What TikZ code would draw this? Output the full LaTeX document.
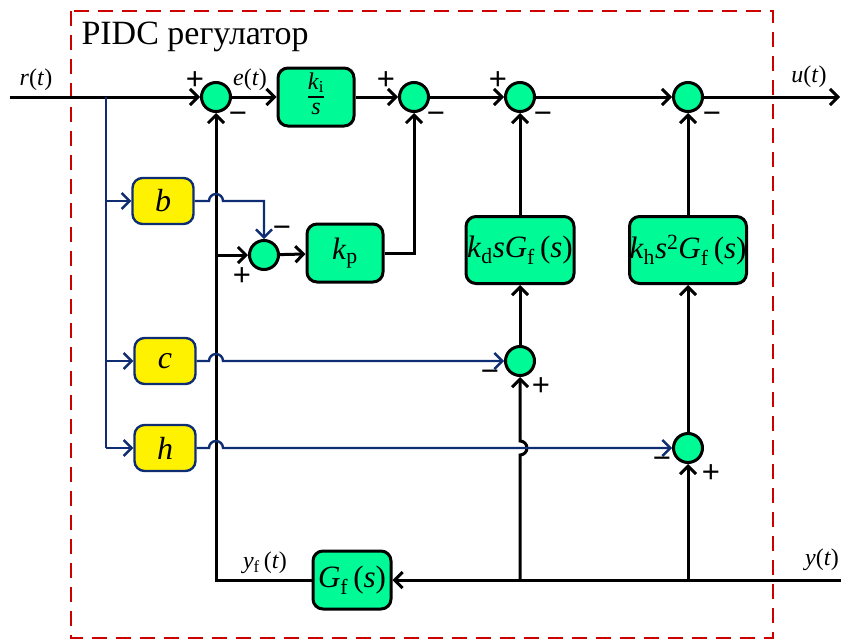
\documentclass[tikz,border=0pt]{standalone}
\usepackage{fontspec}
\setmainfont{Liberation Serif}
\newfontfamily\signfont{Liberation Sans}
\usetikzlibrary{arrows.meta,calc}
\definecolor{blkgreen}{RGB}{0,250,150}
\definecolor{navyb}{RGB}{15,45,115}
\definecolor{dred}{RGB}{205,0,0}
\begin{document}
\begin{tikzpicture}[x=1pt,y=-1pt,
  line width=3pt,
  arr/.style={-{Straight Barb[length=8pt,width=16pt]}},
  sumnode/.style={circle,draw,fill=blkgreen,minimum size=29pt,inner sep=0pt},
  blk/.style={draw,fill=blkgreen,rounded corners=10pt,inner sep=0pt,font=\fontsize{31}{31}\selectfont},
  ybk/.style={draw=navyb,fill=yellow,rounded corners=10pt,line width=2.4pt,minimum width=61pt,minimum height=46pt,inner sep=0pt,font=\fontsize{32}{32}\selectfont},
  bl/.style={navyb,line width=2.4pt},
  sg/.style={font=\signfont\fontsize{31}{31}\selectfont,inner sep=0pt},
  lbl/.style={font=\fontsize{24}{24}\selectfont,inner sep=0pt}
]
\useasboundingbox (0,0) rectangle (841,640);
\draw[dred,dash pattern=on 15pt off 9pt,line width=2.8pt] (71,11) rectangle (773,638);
\node[anchor=base west,inner sep=0pt,font=\fontsize{34}{34}\selectfont] (title) at (80,44) {PIDC регулатор};

% nodes
\node[sumnode] (s1) at (216,97) {};
\node[blk,minimum width=76pt,minimum height=58pt] (ki) at (316,97)
  {\fontsize{24}{24}\selectfont\setlength{\arrayrulewidth}{1.3pt}\begin{tabular}{@{}c@{}}\textit{k}\textsubscript{i}\\\hline\textit{s}\end{tabular}};
\node[sumnode] (s2) at (414,97) {};
\node[sumnode] (s3) at (520,97) {};
\node[sumnode] (s4) at (688,97) {};
\node[ybk] (b) at (163,201) {\textit{b}};
\node[ybk] (c) at (165,361) {\textit{c}};
\node[ybk] (h) at (165,448) {\textit{h}};
\node[sumnode] (sp) at (264,255) {};
\node[blk,minimum width=76pt,minimum height=58pt] (kp) at (345,253) {\textit{k}\textsubscript{p}};
\node[blk,minimum width=108pt,minimum height=67pt] (kd) at (520,250)
  {\textit{k}\textsubscript{d}\textit{sG}\textsubscript{f}\,(\textit{s})};
\node[blk,minimum width=117pt,minimum height=67pt] (kh) at (688,250)
  {\textit{k}\textsubscript{h}\textit{s}\textsuperscript{2}\textit{G}\textsubscript{f}\,(\textit{s})};
\node[sumnode] (s5) at (520,361) {};
\node[sumnode] (s6) at (688,448) {};
\node[blk,minimum width=78pt,minimum height=58pt] (gf) at (352,580)
  {\textit{G}\textsubscript{f}\,(\textit{s})};

% coordinates
\coordinate (rin) at (10,97);
\coordinate (uout) at (840,97);
\coordinate (yin) at (841,580);
\coordinate (br) at (106,97);
\coordinate (j5) at (520,580);
\coordinate (j6) at (688,580);

% black connectors
\draw[arr] (rin) -- (s1);
\draw[arr] (s1) -- (ki);
\draw[arr] (ki) -- (s2);
\draw[arr] (s2) -- (s3);
\draw[arr] (s3) -- (s4);
\draw[arr] (s4) -- (uout);
\draw[arr] (kd) -- (s3);
\draw[arr] (kh) -- (s4);
\draw[arr] (s5) -- (kd);
\draw[arr] (s6) -- (kh);
\draw[arr] (sp) -- (kp);
\draw[arr] (kp.east) -| (s2.south);
\draw[arr] (yin) -- (gf);
\draw[arr] (gf.west) -| (s1.south);
\draw[arr] (s1.south |- sp) -- (sp);
\draw[arr] (j5) -- ($(s5|-h)+(0,7)$) arc[start angle=-90,end angle=90,radius=7pt] -- (s5);
\draw[arr] (j6) -- (s6);

% blue connectors
\draw[bl] (br) -- (br |- h);
\draw[bl,arr] (br |- b) -- (b);
\draw[bl,arr] (br |- c) -- (c);
\draw[bl,arr] (br |- h) -- (h);
\draw[bl,arr] (b.east) -- ($(s1.south|-b.east)+(-7,0)$) arc[start angle=180,end angle=0,radius=7pt] -- (sp |- b.east) -- (sp);
\draw[bl,arr] (c.east) -- ($(s1.south|-c.east)+(-7,0)$) arc[start angle=180,end angle=0,radius=7pt] -- (s5);
\draw[bl,arr] (h.east) -- ($(s1.south|-h.east)+(-7,0)$) arc[start angle=180,end angle=0,radius=7pt] -- (s6);

% labels
\node[lbl] (lr) at (36,80) {\textit{r}(\textit{t})};
\node[lbl] (le) at (250,80) {\textit{e}(\textit{t})};
\node[lbl] (lu) at (809,77) {\textit{u}(\textit{t})};
\node[lbl] (ly) at (822,560) {\textit{y}(\textit{t})};
\node[lbl] (lyf) at (265,563) {\textit{y}\textsubscript{f}\,(\textit{t})};

% signs
\node[sg] (p1) at (195,81) {+};
\node[sg] (m1) at (238,118) {−};
\node[sg] (p2) at (386,81) {+};
\node[sg] (m2) at (436,118) {−};
\node[sg] (p3) at (498,81) {+};
\node[sg] (m3) at (543,118) {−};
\node[sg] (m4) at (712,118) {−};
\node[sg] (mp) at (282,232) {−};
\node[sg] (pp) at (242,277) {+};
\node[sg] (m5) at (490,376) {−};
\node[sg] (p5) at (541,387) {+};
\node[sg] (m6) at (662,463) {−};
\node[sg] (p6) at (711,474) {+};
\end{tikzpicture}
\end{document}
